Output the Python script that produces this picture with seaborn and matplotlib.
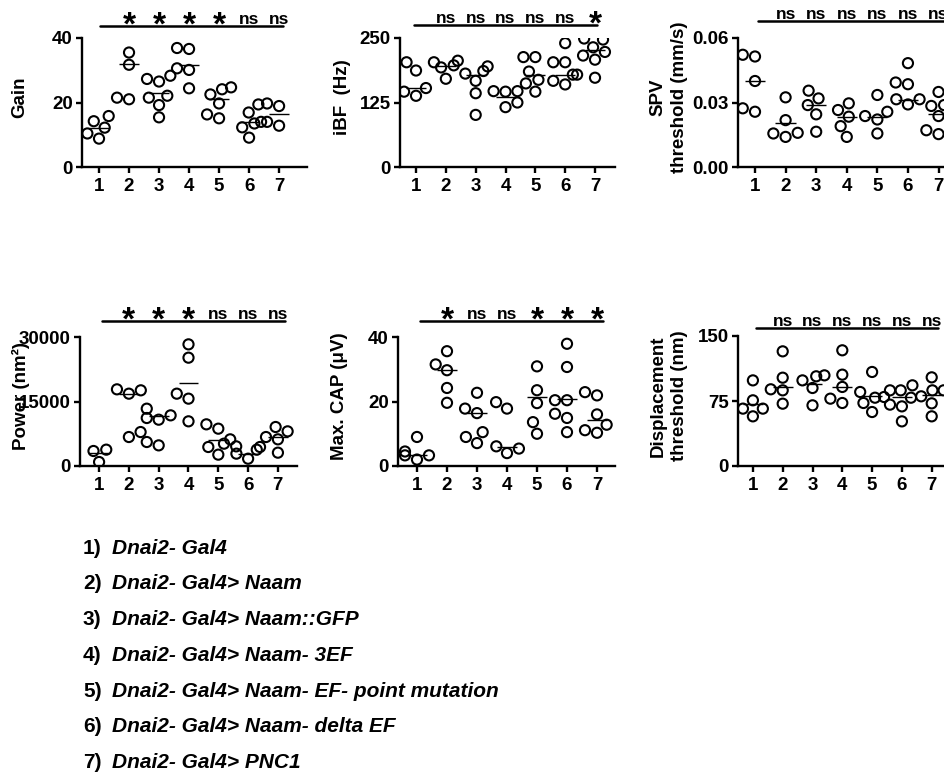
import numpy as np
import pandas as pd
import matplotlib
matplotlib.use('Agg')
import matplotlib.pyplot as plt
import matplotlib.transforms as mtransforms
import seaborn as sns

groups = ['1', '2', '3', '4', '5', '6', '7']

gain = [[15.8, 12.2, 14.2, 10.4, 8.8],
        [35.5, 31.7, 21.0, 21.5],
        [22.1, 28.3, 27.3, 26.5, 21.5, 19.2, 15.4],
        [36.6, 36.9, 30.6, 30.1, 24.4],
        [24.1, 24.7, 22.5, 19.7, 16.3, 15.1],
        [19.4, 16.9, 14.0, 12.3, 13.5, 9.1],
        [18.9, 19.7, 14.0, 12.8]]
gain_center = [12.2, 31.9, 22.9, 31.7, 21.1, 14.0, 16.4]
gain_sig = ['*', '*', '*', '*', 'ns', 'ns']

ibf = [[203, 187, 153, 146, 138],
       [197, 206, 203, 193, 171],
       [186, 195, 167, 181, 143, 101],
       [146, 147, 147, 125, 116],
       [213, 213, 185, 169, 162, 146],
       [240, 203, 203, 179, 179, 160, 167],
       [247, 249, 232, 223, 216, 208, 173]]
ibf_center = [153, 196, 179, 136, 179, 179, 227]
ibf_sig = ['ns', 'ns', 'ns', 'ns', 'ns', '*']

spv = [[0.0514, 0.0522, 0.0400, 0.0257, 0.0273],
       [0.0324, 0.0218, 0.0159, 0.0140, 0.0156],
       [0.0319, 0.0355, 0.0288, 0.0245, 0.0164],
       [0.0296, 0.0265, 0.0234, 0.0190, 0.0140],
       [0.0335, 0.0257, 0.0237, 0.0221, 0.0156],
       [0.0483, 0.0393, 0.0385, 0.0315, 0.0315, 0.0291],
       [0.0349, 0.0284, 0.0288, 0.0237, 0.0153, 0.0171, 0.0288]]
spv_center = [0.040, 0.0206, 0.0288, 0.0234, 0.0234, 0.031, 0.0245]
spv_sig = ['ns', 'ns', 'ns', 'ns', 'ns', 'ns']

power = [[3800, 3490, 930],
         [17600, 17830, 16820, 6740, 7900],
         [11780, 13330, 10770, 11160, 4800, 5580],
         [25190, 28290, 16820, 15660, 10390],
         [9690, 8680, 6200, 5190, 4420, 2640],
         [4420, 4570, 3800, 1700, 2870],
         [9070, 8060, 6740, 6200, 3100]]
power_center = [3000, 16800, 11630, 19300, 6100, 2870, 6740]
power_sig = ['*', '*', '*', 'ns', 'ns', 'ns']

cap = [[3.3, 9.0, 2.0, 3.3, 4.5],
       [31.5, 35.6, 29.7, 24.2, 19.6],
       [22.7, 17.8, 16.4, 10.5, 9.0, 7.1],
       [19.8, 17.8, 6.1, 5.4, 4.0],
       [23.5, 30.9, 19.5, 13.6, 10.0],
       [37.9, 30.7, 20.4, 20.4, 16.2, 14.9, 10.5],
       [21.9, 22.9, 16.0, 12.8, 11.1, 10.3]]
cap_center = [3.5, 29.7, 16.5, 5.9, 21.4, 20.9, 14.4]
cap_sig = ['*', 'ns', 'ns', '*', '*', '*']

disp = [[66.2, 57.3, 66.2, 75.8, 98.8],
        [132.3, 101.9, 88.5, 87.3, 71.9],
        [104.6, 103.5, 98.8, 90.0, 70.0],
        [105.4, 133.5, 91.2, 77.7, 72.7],
        [108.5, 85.4, 78.8, 79.6, 72.7, 62.3],
        [87.3, 93.1, 78.8, 87.3, 70.8, 68.8, 51.5],
        [102.3, 87.3, 72.3, 57.3, 87.3, 80.4]]
disp_center = [72, 91, 95, 91.2, 81, 79.6, 82]
disp_sig = ['ns', 'ns', 'ns', 'ns', 'ns', 'ns']

genotypes = ['Dnai2- Gal4',
             'Dnai2- Gal4> Naam',
             'Dnai2- Gal4> Naam::GFP',
             'Dnai2- Gal4> Naam- 3EF',
             'Dnai2- Gal4> Naam- EF- point mutation',
             'Dnai2- Gal4> Naam- delta EF',
             'Dnai2- Gal4> PNC1']

sns.set_style('ticks')
plt.rcParams['font.family'] = ['Liberation Sans', 'DejaVu Sans']
plt.rcParams['font.weight'] = 'bold'
plt.rcParams['axes.linewidth'] = 1.7
for k in ['text.color', 'axes.labelcolor', 'xtick.color', 'ytick.color', 'axes.edgecolor']:
    plt.rcParams[k] = 'black'

W, H = 945, 780
fig = plt.figure(figsize=(W / 100, H / 100), dpi=100)


def add_axes(left, top, right, bottom):
    return fig.add_axes([left / W, 1 - bottom / H, (right - left) / W, (bottom - top) / H])


panels = [
    dict(vals=gain, center=gain_center, sig=gain_sig, box=(82, 38, 307, 167), xlim=(0.433, 7.93),
         ylim=(0, 40), yticks=[0, 20, 40], ytl=['0', '20', '40'], ylabel='Gain', labx=20,
         line_y=1.093, line_x=(1.03, 7.13)),
    dict(vals=ibf, center=ibf_center, sig=ibf_sig, box=(400, 38, 615, 167), xlim=(0.463, 7.67),
         ylim=(0, 250), yticks=[0, 125, 250], ytl=['0', '125', '250'], ylabel='iBF  (Hz)', labx=343,
         line_y=1.10, line_x=(0.93, 7.07)),
    dict(vals=spv, center=spv_center, sig=spv_sig, box=(738, 38, 963, 167), xlim=(0.444, 7.80),
         ylim=(0, 0.06), yticks=[0, 0.03, 0.06], ytl=['0.00', '0.03', '0.06'],
         ylabel='SPV\nthreshold (mm/s)', labx=669, line_y=1.13, line_x=(1.1, 8.0)),
    dict(vals=power, center=power_center, sig=power_sig, box=(80, 337, 297, 466), xlim=(0.36, 7.64),
         ylim=(0, 30000), yticks=[0, 15000, 30000], ytl=['0', '15000', '30000'],
         ylabel='Power (nm²)', labx=21, line_y=1.124, line_x=(1.1, 7.24)),
    dict(vals=cap, center=cap_center, sig=cap_sig, box=(398, 337, 615, 466), xlim=(0.367, 7.6),
         ylim=(0, 40), yticks=[0, 20, 40], ytl=['0', '20', '40'], ylabel='Max. CAP (μV)', labx=340,
         line_y=1.124, line_x=(1.1, 7.2)),
    dict(vals=disp, center=disp_center, sig=disp_sig, box=(738, 336, 963, 466), xlim=(0.5, 8.05),
         ylim=(0, 150), yticks=[0, 75, 150], ytl=['0', '75', '150'],
         ylabel='Displacement\nthreshold (nm)', labx=669, line_y=1.061, line_x=(1.1, 7.2)),
]

for p in panels:
    ax = add_axes(*p['box'])
    rows = [(g, v) for g, vs in zip(groups, p['vals']) for v in vs]
    df = pd.DataFrame(rows, columns=['group', 'value'])
    sns.swarmplot(data=df, x='group', y='value', order=groups, ax=ax, size=7.3,
                  color='white', edgecolor='black', linewidth=1.5, warn_thresh=1.0, zorder=3)
    for coll in ax.collections:
        coll.set_facecolor('none')
        coll.set_edgecolor('black')
    idx = np.arange(len(groups))
    ax.hlines(p['center'], idx - 0.33, idx + 0.33, color='black', lw=1.0, zorder=2)
    ax.set_xlim(p['xlim'][0] - 1, p['xlim'][1] - 1)
    ax.set_ylim(*p['ylim'])
    ax.set_yticks(p['yticks'])
    ax.set_yticklabels(p['ytl'])
    ax.set_xlabel('')
    sns.despine(ax=ax)
    ax.tick_params(axis='both', labelsize=13.5, width=1.7, length=4.5, pad=2, colors='black')
    ax.tick_params(axis='x', pad=3.5)
    for t in ax.get_xticklabels() + ax.get_yticklabels():
        t.set_fontweight('bold')
    ax.set_ylabel(p['ylabel'], fontsize=13.5, fontweight='bold', va='center', linespacing=1.35)
    l, t_, r, b = p['box']
    ax.yaxis.set_label_coords((p['labx'] - l) / (r - l), 0.54)

    trans = mtransforms.blended_transform_factory(ax.transData, ax.transAxes)
    x0, x1 = p['line_x']
    ax.plot([x0 - 1, x1 - 1], [p['line_y'], p['line_y']], transform=trans, color='black',
            lw=1.8, clip_on=False)
    for i, lab in enumerate(p['sig']):
        x = i + 1
        if lab == '*':
            ax.annotate('*', xy=(x, p['line_y']), xycoords=trans, xytext=(0, -6),
                        textcoords='offset points', ha='center', va='baseline',
                        fontsize=24, fontweight='bold', annotation_clip=False)
        else:
            ax.annotate('ns', xy=(x, p['line_y']), xycoords=trans, xytext=(0, 1.8),
                        textcoords='offset points', ha='center', va='baseline',
                        fontsize=12.5, fontweight='bold', annotation_clip=False)

for i, g in enumerate(genotypes):
    yb = 553.5 + 35.8 * i
    fig.text(83 / W, 1 - yb / H, f'{i + 1})', fontsize=15, fontweight='bold', va='baseline', ha='left')
    fig.text(112 / W, 1 - yb / H, g, fontsize=15, fontweight='bold', fontstyle='italic',
             va='baseline', ha='left')

fig.savefig('out.png', dpi=100)
